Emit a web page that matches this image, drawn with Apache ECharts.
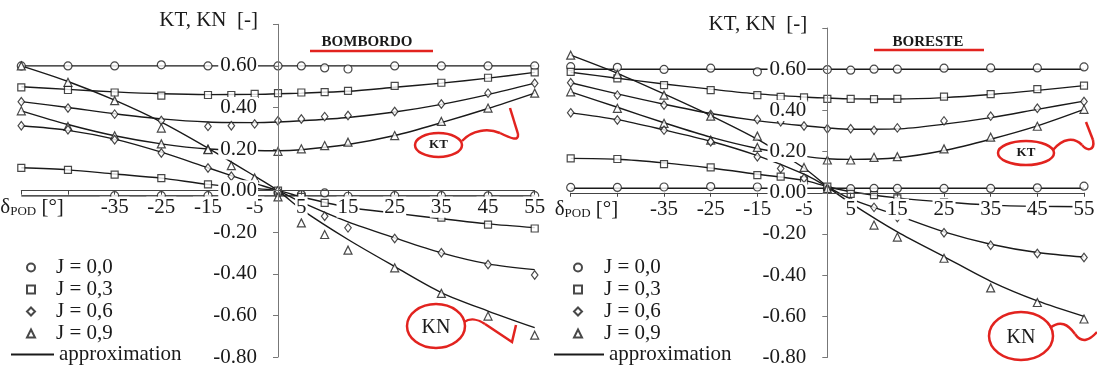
<!DOCTYPE html>
<html><head><meta charset="utf-8">
<script src="https://cdn.jsdelivr.net/npm/echarts@6/dist/echarts.min.js"></script>
<style>html,body{margin:0;padding:0;background:#fff}#c{width:1097px;height:368px}</style>
</head><body><div id="c"></div>
<script>
// ---------- data ----------
const ANG = [-55,-45,-35,-25,-15,-10,-5,0,5,10,15,25,35,45,55];
const FIT_ANG = [-55,-45,-35,-25,-15,-5,0,5,15,25,35,45,55];
const J_LABELS = ['J = 0,0','J = 0,3','J = 0,6','J = 0,9'];
const X_TICKS_SHOWN = [-35,-25,-15,-5,5,15,25,35,45,55];
const PANEL_TITLES = ['BOMBORDO','BORESTE'];

// BOMBORDO (left) measured points
const bbKT00 = [0.60,0.60,0.60,0.605,0.60,null,null,0.60,0.60,0.59,0.585,0.60,0.60,0.60,0.60];
const bbKT03 = [0.497,0.484,0.472,0.457,0.46,0.46,0.465,0.469,0.472,0.474,0.48,0.504,0.519,0.543,0.569];
const bbKT06 = [0.428,0.397,0.368,0.337,0.309,0.312,0.321,0.336,0.345,0.356,0.361,0.381,0.417,0.469,0.517];
const bbKT09 = [0.384,0.309,0.264,0.225,0.20,null,null,0.189,0.201,0.217,0.233,0.265,0.333,0.397,0.469];
const bbKN00 = [null,null,-0.024,-0.024,-0.024,null,null,-0.01,-0.019,-0.011,-0.027,-0.024,-0.024,-0.025,-0.024];
const bbKN03 = [0.11,0.10,0.077,0.06,0.03,null,null,0.0,-0.03,-0.059,-0.085,-0.105,-0.13,-0.163,-0.182];
const bbKN06 = [0.312,0.293,0.245,0.181,0.109,0.069,null,0.0,-0.06,-0.123,-0.179,-0.23,-0.299,-0.355,-0.406];
const bbKN09 = [0.60,0.521,0.433,0.301,0.197,0.12,0.061,-0.03,-0.155,-0.211,-0.286,-0.371,-0.494,-0.603,-0.695];
// BOMBORDO approximation curves (at FIT_ANG)
const bbFitKT00 = [0.60,0.60,0.60,0.60,0.60,0.60,0.60,0.60,0.60,0.60,0.60,0.60,0.60];
const bbFitKT03 = [0.50,0.487,0.475,0.466,0.462,0.463,0.466,0.469,0.478,0.497,0.517,0.541,0.569];
const bbFitKT06 = [0.428,0.40,0.37,0.345,0.33,0.327,0.33,0.336,0.352,0.378,0.415,0.462,0.517];
const bbFitKT09 = [0.384,0.318,0.264,0.225,0.20,0.193,0.192,0.197,0.222,0.265,0.327,0.395,0.469];
const bbFitKN00 = [-0.025,-0.025,-0.025,-0.025,-0.025,-0.025,-0.025,-0.025,-0.025,-0.025,-0.025,-0.025,-0.025];
const bbFitKN03 = [0.11,0.10,0.08,0.06,0.03,0.01,0.0,-0.03,-0.08,-0.108,-0.135,-0.16,-0.178];
const bbFitKN06 = [0.312,0.29,0.248,0.185,0.11,0.035,0.0,-0.055,-0.15,-0.227,-0.299,-0.352,-0.38];
const bbFitKN09 = [0.60,0.525,0.435,0.33,0.205,0.07,0.0,-0.09,-0.235,-0.365,-0.49,-0.579,-0.659];

// BORESTE (right) measured points
const brKT00 = [0.612,0.609,0.599,0.605,0.587,null,null,0.598,0.595,0.60,0.60,0.605,0.606,0.606,0.611];
const brKT03 = [0.587,0.555,0.523,0.498,0.474,0.466,0.463,0.456,0.456,0.455,0.456,0.467,0.479,0.503,0.52];
const brKT06 = [0.534,0.474,0.426,0.38,0.356,0.345,0.324,0.311,0.311,0.303,0.315,0.349,0.372,0.41,0.443];
const brKT09 = [0.49,0.41,0.337,0.256,0.22,null,null,0.159,0.159,0.172,0.175,0.213,0.27,0.323,0.405];
const brKN00 = [0.026,0.026,0.028,0.03,0.028,null,null,0.02,0.02,0.021,0.021,0.021,0.021,0.024,0.032];
const brKN03 = [0.167,0.164,0.139,0.123,0.086,0.078,0.06,0.03,-0.005,-0.012,-0.027,-0.047,-0.06,-0.066,-0.068];
const brKN06 = [0.388,0.353,0.304,0.248,0.175,0.118,0.07,0.02,-0.044,-0.071,-0.12,-0.194,-0.255,-0.295,-0.314];
const brKN09 = [0.668,0.575,0.474,0.372,0.275,null,0.123,0.02,-0.06,-0.157,-0.215,-0.318,-0.462,-0.533,-0.613];
// BORESTE approximation curves (at FIT_ANG)
const brFitKT00 = [0.60,0.60,0.60,0.60,0.60,0.60,0.60,0.60,0.60,0.60,0.60,0.60,0.60];
const brFitKT03 = [0.585,0.556,0.528,0.503,0.48,0.465,0.46,0.456,0.455,0.462,0.477,0.497,0.52];
const brFitKT06 = [0.534,0.48,0.43,0.385,0.35,0.325,0.315,0.308,0.31,0.333,0.365,0.405,0.445];
const brFitKT09 = [0.49,0.415,0.34,0.27,0.215,0.178,0.165,0.162,0.17,0.205,0.26,0.325,0.405];
const brFitKN00 = [0.022,0.022,0.022,0.022,0.022,0.022,0.022,0.022,0.022,0.022,0.022,0.022,0.022];
const brFitKN03 = [0.167,0.163,0.145,0.12,0.09,0.06,0.03,0.005,-0.025,-0.045,-0.06,-0.066,-0.068];
const brFitKN06 = [0.388,0.355,0.305,0.25,0.18,0.09,0.03,-0.03,-0.11,-0.19,-0.25,-0.29,-0.312];
const brFitKN09 = [0.668,0.58,0.48,0.375,0.26,0.12,0.03,-0.05,-0.19,-0.31,-0.43,-0.525,-0.6];

// ---------- build ----------
const FONT = 'Liberation Serif, Times New Roman, serif';
const FS = 21;
const INK = '#1a1a1a';
const RED = '#e2231f';
const SYMBOLS = ['circle','rect','diamond','triangle'];
const SYMSIZE = [8,7,[6.5,8.5],8];

const panels = [
  {pts:[[bbKT00,bbKT03,bbKT06,bbKT09],[bbKN00,bbKN03,bbKN06,bbKN09]],
   fits:[bbFitKT00,bbFitKT03,bbFitKT06,bbFitKT09,bbFitKN00,bbFitKN03,bbFitKN06,bbFitKN09]},
  {pts:[[brKT00,brKT03,brKT06,brKT09],[brKN00,brKN03,brKN06,brKN09]],
   fits:[brFitKT00,brFitKT03,brFitKT06,brFitKT09,brFitKN00,brFitKN03,brFitKN06,brFitKN09]}
];

const series = [];
panels.forEach((p, pi) => {
  p.pts.forEach(group => {
    group.forEach((arr, j) => {
      series.push({
        type:'scatter', name:J_LABELS[j], xAxisIndex:pi, yAxisIndex:pi,
        data: ANG.map((a,i)=> arr[i]==null ? null : [a,arr[i]]).filter(d=>d),
        symbol:SYMBOLS[j], symbolSize:SYMSIZE[j], z:3, silent:true,
        itemStyle:{color:'#fff', borderColor:INK, borderWidth:1.2}
      });
    });
  });
  p.fits.forEach(arr => {
    series.push({
      type:'line', name:'approximation', xAxisIndex:pi, yAxisIndex:pi,
      data: FIT_ANG.map((a,i)=>[a,arr[i]]),
      smooth:0.3, symbol:'none', showSymbol:false, silent:true, z:2,
      lineStyle:{color:INK, width:1.4}, itemStyle:{color:INK}
    });
  });
});

// grid boxes and where the zero lines sit
const grids = [
  {left:21.3, right:562.3, top:24.3, bottom:11, outerBoundsMode:'none', containLabel:false},
  {left:570.7, right:13, top:28, bottom:10.5, outerBoundsMode:'none', containLabel:false}
];
const X_OFFSET = [-166.35, -164.75];   // move x axis up to value 0
const Y_OFFSET = [-256.7, -256.6];     // move y axis right to angle 0

const xAxes = grids.map((g,i)=>({
  type:'value', gridIndex:i, min:-55, max:55, interval:10, z:10,
  position:'bottom', offset:X_OFFSET[i],
  axisLine:{onZero:false, lineStyle:{color:'#444', width:1}},
  axisTick:{show:true, length:4, lineStyle:{color:'#444'}},
  axisLabel:{formatter:v=> X_TICKS_SHOWN.indexOf(Math.round(v))>=0 ? String(Math.round(v)) : '',
    margin:6, fontFamily:FONT, fontSize:FS, color:INK, backgroundColor:'#fff', padding:[0,1,0,1]},
  splitLine:{show:false},
  name:'{d|δ}{s|POD}{d| [°]}', nameLocation:'start', nameGap: i===0 ? 21 : 16,
  nameTextStyle:{align:'left', verticalAlign:'top', padding:[6,0,0,0],
    rich:{d:{fontFamily:FONT,fontSize:FS,color:INK}, s:{fontFamily:FONT,fontSize:13,color:INK,verticalAlign:'bottom',padding:[8,0,0,0]}}}
}));

const yAxes = grids.map((g,i)=>({
  type:'value', gridIndex:i, min:-0.8, max:0.8, interval:0.2, z:11,
  position:'left', offset:Y_OFFSET[i],
  axisLine:{onZero:false, lineStyle:{color:'#777', width:1}},
  axisTick:{show:true, length:5, lineStyle:{color:'#777'}},
  axisLabel:{formatter:v=> v>0.79 ? '' : v.toFixed(2), margin:20, fontFamily:FONT, fontSize:FS, color:INK,
    backgroundColor:'#fff', padding:[0,1,0,2]},
  splitLine:{show:false},
  name:'KT, KN  [-]', nameLocation:'end', nameGap:4,
  nameTextStyle:{align:'right', verticalAlign:'middle', padding:[0,20,0,0], fontFamily:FONT, fontSize:FS, color:INK}
}));

function jLegend(left, textPad){
  return {orient:'vertical', left:left, top:257, padding:0, itemWidth:8, itemHeight:8, itemGap:1, selectedMode:false,
    data:J_LABELS, textStyle:{fontFamily:FONT, fontSize:FS, color:INK, padding:[0,0,0,textPad]}};
}
function fitLegend(left, w){
  return {orient:'vertical', left:left, top:344, padding:0, itemWidth:w, itemHeight:8, selectedMode:false,
    data:[{name:'approximation', itemStyle:{opacity:0}}], textStyle:{fontFamily:FONT, fontSize:FS, color:INK}};
}

function redLine(points){ return {type:'polyline', shape:{points:points}, style:{stroke:RED, fill:null, lineWidth:2.5}}; }
function redCurve(x1,y1,c1x,c1y,c2x,c2y,x2,y2){ return {type:'bezierCurve', shape:{x1:x1,y1:y1,cpx1:c1x,cpy1:c1y,cpx2:c2x,cpy2:c2y,x2:x2,y2:y2}, style:{stroke:RED, fill:null, lineWidth:2.5}}; }
function redEllipse(cx,cy,rx,ry){ return {type:'ellipse', shape:{cx:cx,cy:cy,rx:rx,ry:ry}, style:{stroke:RED, fill:null, lineWidth:2.5}}; }
function label(x,y,text,font){ return {type:'text', x:x, y:y, style:{text:text, font:font, fill:INK, align:'center', verticalAlign:'middle'}}; }

const graphic = [
  label(367,42,PANEL_TITLES[0],'bold 15px '+FONT),
  redLine([[310,51],[433,51]]),
  label(928,42,PANEL_TITLES[1],'bold 15px '+FONT),
  redLine([[874,50],[984,50]]),
  redEllipse(438.5,145,23.5,12),
  label(438.5,145,'KT','bold 13px '+FONT),
  redCurve(462,141, 472,130, 488,128, 500,133),
  redCurve(500,133, 510,138, 519,142, 518,134),
  redLine([[518,134],[510,108]]),
  redEllipse(436,326,29,22),
  label(436,328,'KN','20px '+FONT),
  redCurve(464,322, 470,318, 478,319, 485,324),
  redLine([[485,324],[512,342],[516,325]]),
  redEllipse(1026,153,28,12),
  label(1026,153,'KT','bold 13px '+FONT),
  redCurve(1053,150, 1063,138, 1074,137, 1082,145),
  redCurve(1082,145, 1088,152, 1095,150, 1093,140),
  redLine([[1093,140],[1086,122]]),
  redEllipse(1021,336,32,24),
  label(1021,338,'KN','20px '+FONT),
  redCurve(1050,328, 1060,320, 1068,324, 1075,334),
  redCurve(1075,334, 1082,344, 1090,340, 1097,332)
];

const chart = echarts.init(document.getElementById('c'), null, {renderer:'canvas'});
chart.setOption({
  animation:false,
  backgroundColor:'#fff',
  grid:grids,
  xAxis:xAxes,
  yAxis:yAxes,
  legend:[jLegend(26,16), fitLegend(10,43), jLegend(573,17), fitLegend(553,50)],
  series:series,
  graphic:graphic
});
</script></body></html>
